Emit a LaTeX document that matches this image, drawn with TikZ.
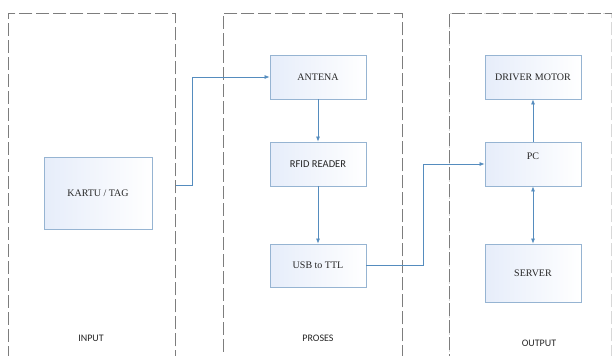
\documentclass[tikz,border=0pt]{standalone}
\usepackage{fontspec}
\setmainfont{Liberation Serif}
\newfontfamily\calibfont{Carlito}
\usepackage{tikz}
\usetikzlibrary{positioning, arrows, arrows.meta}
\definecolor{boxline}{RGB}{150,180,210}
\definecolor{boxfill}{RGB}{230,237,250}
\definecolor{lineblue}{RGB}{85,140,190}
\definecolor{dashgray}{RGB}{125,125,125}
\tikzstyle{arrow} = [draw=lineblue, line width=0.7pt, ->, >={Latex[length=5pt,width=4pt]}]
\tikzstyle{block} = [rectangle, draw=boxline, line width=0.8pt, left color=boxfill, right color=white, text=black!85, font=\fontsize{10}{12}\selectfont, minimum width=96pt, minimum height=44pt, inner sep=0pt]
\tikzstyle{panel} = [rectangle, draw=dashgray, line width=0.8pt, dash pattern=on 13pt off 4pt, anchor=north west, inner sep=0pt]
\tikzstyle{caption} = [font=\calibfont\fontsize{10}{12}\selectfont, text=black!85]

\begin{document}
\begin{tikzpicture}[x=1pt, y=-1pt]
  \useasboundingbox (0,0) rectangle (614,356);
  \clip (0,0) rectangle (614,356);

  % Panels
  \node[panel, minimum width=167pt, minimum height=370pt] (input) at (8,13) {};
  \node[panel, minimum width=179pt, minimum height=370pt] (proses) at (223,13) {};
  \node[panel, minimum width=162pt, minimum height=370pt, draw=dashgray!30] (output) at (449,13) {};
  \draw[dashgray, line width=0.8pt, dash pattern=on 13pt off 4pt] (output.south west) -- (output.north west) -- (output.north east);

  \node[caption] (lin) at (91,338) {INPUT};
  \node[caption] (lpro) at (318,338) {PROSES};
  \node[caption] (lout) at (539,343) {OUTPUT};

  % Input
  \node[block, minimum width=108pt, minimum height=72pt] (kartu) at (98,193) {KARTU / TAG};

  % Proses
  \node[block] (antena) at (318,77) {ANTENA};
  \node[block, font=\calibfont\fontsize{10.5}{12}\selectfont] (rfid) at (318,164) {RFID READER};
  \node[block, minimum height=43pt] (usb) at (318,265.5) {USB to TTL};

  % Output
  \node[block] (driver) at (533,77) {DRIVER MOTOR};
  \node[block, text depth=16pt] (pc) at (533,164) {PC};
  \node[block, minimum height=58pt] (server) at (533,273) {SERVER};

  % Connections
  \coordinate (kout) at (input.east |- 0,185);
  \draw[arrow] (kout) -- (192,185) |- (antena.west);
  \draw[arrow] (antena) -- (rfid);
  \draw[arrow] (rfid) -- (usb);
  \draw[arrow] (usb.east) -- (423,265.5) |- (pc.west);
  \draw[arrow] (pc) -- (driver);
  \draw[arrow, <->] (pc) -- (server);
\end{tikzpicture}
\end{document}
